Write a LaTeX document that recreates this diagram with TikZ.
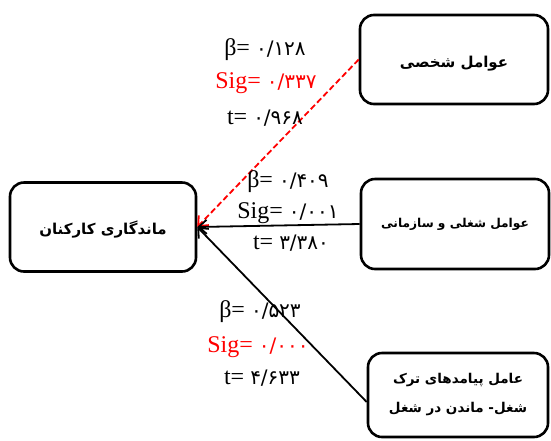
\documentclass[tikz,border=0pt]{standalone}
\usepackage{fontspec}
\setmainfont{Liberation Serif}
\newfontfamily\fa[Script=Arabic]{DejaVu Sans}
\TeXXeTstate=1
\usetikzlibrary{arrows.meta}
\definecolor{redc}{RGB}{255,0,0}
\tikzset{
  box/.style={draw=black, line width=2.6pt, rounded corners=14pt, fill=white, align=center, inner sep=0pt,
    font=\fa\bfseries\fontsize{15}{29}\selectfont},
  lower/.style={text height=18pt, text depth=3pt},
  lab/.style={inner sep=0pt, font=\fontsize{24}{26}\selectfont},
  conn/.style={line width=1.8pt, -{Straight Barb[length=8pt,width=14pt,line width=1.8pt]}},
  redconn/.style={conn, draw=redc, dash pattern=on 6pt off 3pt},
}
\newcommand{\pn}[1]{{\fa\fontsize{20}{24}\selectfont #1}}
\begin{document}
\begin{tikzpicture}[x=1pt,y=-1pt]
\useasboundingbox (0,0) rectangle (551,440);
\node[box, lower, minimum width=186pt, minimum height=89pt] (target) at (103,227) {\beginR ماندگاری کارکنان\endR};
\node[box, lower, minimum width=188pt, minimum height=89pt] (pers) at (454,59.5) {\beginR عوامل شخصی\endR};
\node[box, minimum width=188pt, minimum height=90pt, font=\fa\bfseries\fontsize{12.2}{20}\selectfont] (org) at (455,224) {\beginR عوامل شغلی و سازمانی\endR};
\node[box, minimum width=180pt, minimum height=84pt, font=\fa\bfseries\fontsize{13.5}{29}\selectfont] (cons) at (458,395) {\beginR عامل پیامدهای ترک\endR\\\beginR شغل- ماندن در شغل\endR};

\coordinate (tip) at (target.east);
\draw[redconn] (pers.west) -- (tip);
\draw[conn] (org.west) -- (tip);
\draw[conn] ([yshift=-7pt]cons.west) -- (tip);

\node[lab] (b1) at (265,50) {β= \pn{۰/۱۲۸}};
\node[lab, text=redc] (s1) at (266,83) {Sig= \pn{۰/۳۳۷}};
\node[lab] (t1) at (265,118) {t= \pn{۰/۹۶۸}};

\node[lab] (b2) at (288,182) {β= \pn{۰/۴۰۹}};
\node[lab] (s2) at (288,213) {Sig= \pn{۰/۰۰۱}};
\node[lab] (t2) at (291,243) {t= \pn{۳/۳۸۰}};

\node[lab] (b3) at (260,312) {β= \pn{۰/۵۲۳}};
\node[lab, text=redc] (s3) at (258,347) {Sig= \pn{۰/۰۰۰}};
\node[lab] (t3) at (262,378) {t= \pn{۴/۶۳۳}};
\end{tikzpicture}
\end{document}
